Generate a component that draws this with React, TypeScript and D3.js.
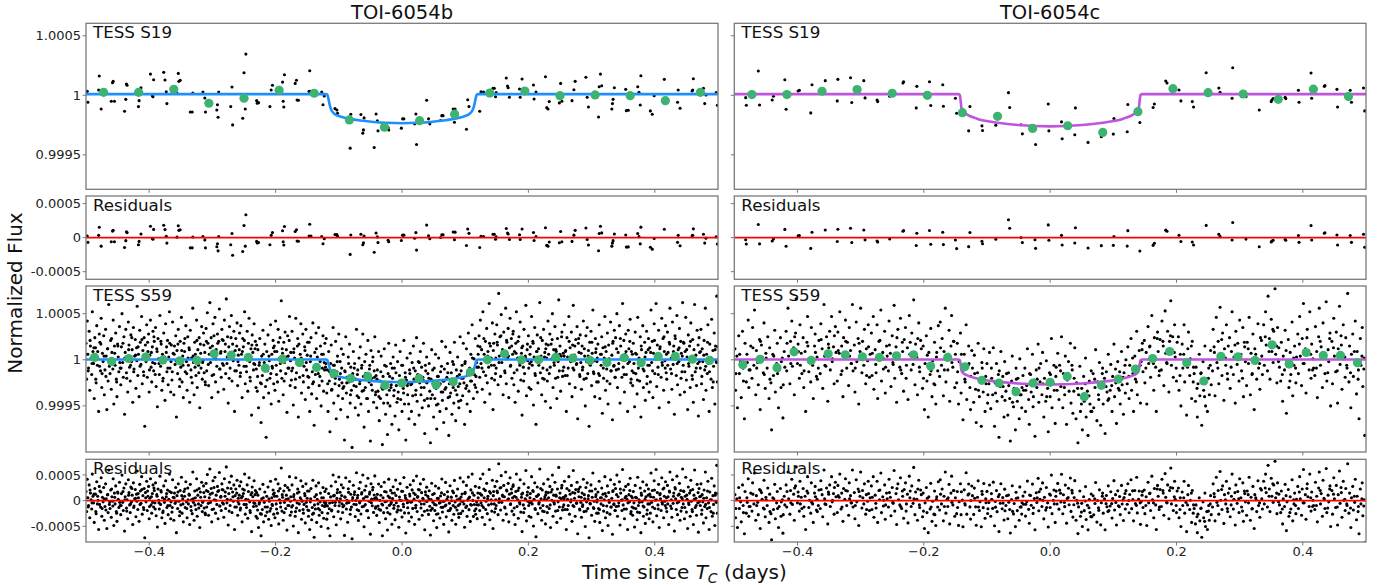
import React from 'react';
import * as d3 from 'd3';

const W = 1385;
const H = 585;

// Phase-folded photometry: [time since Tc in 1e-3 days, flux deviation in ppm]
const s19bPoints: [number, number][] = [
  [-498,33],[-497,-59],[-479,162],[-480,44],[-476,-115],[-458,106],[-457,117],[-460,-50],[-455,-50],[-439,-134],
  [-437,-34],[-436,95],[-435,84],[-417,-95],[-416,-45],[-413,64],[-398,178],[-393,131],[-395,-3],[-394,-12],
  [-377,193],[-375,128],[-373,30],[-372,-70],[-354,184],[-353,117],[-351,126],[-356,17],[-335,-140],[-332,-140],
  [-331,19],[-315,28],[-312,-23],[-311,-140],[-292,-79],[-293,-123],[-291,-184],[-290,28],[-271,-95],[-269,70],
  [-268,-249],[-252,-193],[-250,189],[-248,-115],[-247,346],[-230,-45],[-229,-67],[-227,-62],[-209,-95],[-207,44],
  [-205,84],[-188,-50],[-187,-98],[-189,111],[-186,173],[-169,100],[-167,126],[-166,-39],[-164,-42],[-146,206],
  [-147,33],[-144,33],[-127,28],[-125,-79],[-123,-6],[-106,-112],[-103,-123],[-102,-151],[-82,-444],[-81,-159],
  [-65,-162],[-62,-318],[-61,-291],[-60,-190],[-44,-439],[-41,-157],[-39,-215],[-38,-299],[-21,-291],[-22,-271],
  [1,-198],[3,-198],[-1,-276],[22,-157],[20,-240],[23,-414],[39,-42],[42,-198],[44,-240],[61,-212],
  [63,-171],[65,-171],[81,-115],[84,-115],[83,-226],[102,-285],[104,-37],[106,-95],[123,-134],[125,30],
  [129,28],[144,59],[146,59],[148,-12],[149,22],[165,145],[167,78],[168,64],[170,-17],[186,53],
  [190,137],[187,-17],[208,86],[209,-31],[212,28],[227,156],[229,-104],[231,-115],[233,-53],[251,100],
  [249,-64],[253,-50],[269,-45],[274,117],[272,47],[291,151],[293,-17],[295,-98],[312,72],[314,178],
  [311,-182],[316,80],[332,-115],[333,-70],[334,-34],[336,64],[354,50],[355,-129],[358,-126],[373,72],
  [375,25],[377,-81],[378,164],[393,-131],[396,-159],[399,-3],[415,134],[437,44],[436,-59],[440,-109],
  [459,36],[461,139],[460,44],[477,59],[479,-70],[481,3],[497,22],[499,-84]
];

const s19cPoints: [number, number][] = [
  [-482,-20],[-481,-84],[-462,204],[-460,-81],[-440,-39],[-438,-8],[-420,131],[-418,-117],[-399,36],[-397,42],
  [-379,-148],[-377,89],[-356,123],[-336,134],[-337,-47],[-316,148],[-314,-61],[-295,123],[-293,-22],[-274,-39],
  [-273,-53],[-254,-8],[-233,103],[-232,114],[-211,75],[-212,-106],[-191,114],[-189,-86],[-170,89],[-169,-92],
  [-150,-25],[-148,-151],[-129,-299],[-127,-95],[-108,-257],[-107,-296],[-86,-251],[-66,22],[-64,-103],[-46,-248],
  [-44,-324],[-23,-413],[-24,-287],[-3,-73],[-2,-299],[18,-223],[19,-365],[39,-332],[40,-106],[60,-396],
  [81,-349],[101,-195],[100,-326],[122,-307],[123,-78],[142,-229],[163,-103],[165,-73],[183,120],[185,103],
  [204,45],[207,-47],[225,-53],[227,-98],[247,190],[267,61],[269,25],[288,-25],[289,232],[310,-11],
  [331,-123],[350,-53],[351,-39],[353,-28],[372,-17],[373,-28],[393,42],[394,-59],[413,187],[414,-25],
  [434,75],[435,81],[455,-98],[454,50],[475,42],[477,-59],[496,61],[498,-131]
];

const s59bOrbitA: [number, number][] = [
  [-500,180],[-499,-210],[-498,420],[-497,60],[-496,-90],[-495,310],[-494,-330],[-493,150],[-492,20],[-491,-160],[-490,520],[-489,90],[-488,-40],[-487,-420],[-486,240],[-485,130],[-484,-250],[-483,370],[-482,-60],[-481,10],[-480,-560],[-479,280],[-478,190],[-477,-120],[-476,450],[-475,-300],[-474,70],[-473,-20],
  [-472,260],[-471,-380],[-470,-110],[-469,330],[-468,40],[-467,-540],[-466,120],[-465,-230],[-464,600],[-463,-70],[-462,-150],[-461,210],[-460,-320],[-459,80],[-458,-10],[-457,430],[-456,-480],[-455,150],[-454,-60],[-453,290],[-452,-210],[-451,-400],[-450,170],[-449,30],[-448,-130],[-447,360],[-446,-90],
  [-445,-270],[-444,140],[-443,500],[-442,-30],[-441,-190],[-440,250],[-439,-590],[-438,80],[-437,330],[-436,-140],[-435,20],[-434,-350],[-433,410],[-432,160],[-431,-80],[-430,-230],[-429,270],[-428,-20],[-427,110],[-426,-460],[-425,350],[-424,-100],[-423,40],[-422,220],[-421,-310],[-420,130],[-419,580],
  [-418,-170],[-417,60],[-416,-400],[-415,320],[-414,190],[-413,-50],[-412,470],[-411,-260],[-410,100],[-409,-130],[-408,240],[-407,-720],[-406,160],[-405,-20],[-404,380],[-403,-190],[-402,90],[-401,280],[-400,-350],[-399,50],[-398,430],[-397,-80],[-396,-240],[-395,140],[-394,310],[-393,-120],[-392,200],
  [-391,-40],[-390,350],[-389,-290],[-388,120],[-387,-510],[-386,230],[-385,10],[-384,-160],[-383,480],[-382,-70],[-381,170],[-380,-330],[-379,60],[-378,-200],[-377,290],[-376,-30],[-375,-440],[-374,390],[-373,80],[-372,-130],[-371,210],[-370,-270],[-369,30],[-368,520],[-367,-90],[-366,-350],[-365,160],
  [-364,-220],[-363,410],[-362,70],[-361,-380],[-360,150],[-359,-50],[-358,260],[-357,-620],[-356,100],[-355,-150],[-354,330],[-353,-10],[-352,-290],[-351,200],[-350,-80],[-349,460],[-348,-240],[-347,40],[-346,-410],[-345,180],[-344,90],[-343,-130],[-342,370],[-341,-20],[-340,-330],[-339,250],[-338,-60],
  [-337,130],[-336,-460],[-335,320],[-334,-110],[-333,20],[-332,-250],[-331,560],[-330,-30],[-329,-380],[-328,190],[-327,60],[-326,-170],[-325,430],[-324,-300],[-323,110],[-322,-60],[-321,240],[-320,-520],[-319,170],[-318,-90],[-317,360],[-316,-210],[-315,-10],[-314,290],[-313,-140],[-312,80],[-311,-270],
  [-310,340],[-309,-120],[-308,510],[-307,180],[-306,-280],[-305,60],[-304,620],[-303,-30],[-302,240],[-301,-410],[-300,150],[-299,390],[-298,-160],[-297,20],[-296,460],[-295,-240],[-294,110],[-293,-70],[-292,280],[-291,-350],[-290,200],[-289,550],[-288,-100],[-287,70],[-286,-190],[-285,330],[-284,-40],
  [-283,210],[-282,-320],[-281,430],[-280,90],[-279,-150],[-278,660],[-277,-40],[-276,250],[-275,-470],[-274,140],[-273,360],[-272,-90],[-271,20],[-270,480],[-269,-230],[-268,170],[-267,-10],[-266,310],[-265,-560],[-264,100],[-263,230],[-262,-120],[-261,400],[-260,-280],[-259,50],[-258,-60],[-257,290],
  [-256,-180],[-255,370],[-254,60],[-253,-410],[-252,230],[-251,140],[-250,-70],[-249,520],[-248,-260],[-247,30],[-246,-130],[-245,310],[-244,-340],[-243,180],[-242,450],[-241,-20],[-240,-230],[-239,120],[-238,-600],[-237,270],[-236,80],[-235,-110],[-234,390],[-233,-50],[-232,200],[-231,-300],[-230,160],
  [-229,-340],[-228,110],[-227,-520],[-226,-60],[-225,230],[-224,-250],[-223,-680],[-222,40],[-221,-170],[-220,320],[-219,-410],[-218,-30],[-217,170],[-216,-290],[-215,-840],[-214,90],[-213,-120],[-212,270],[-211,-360],[-210,-10],[-209,-200],[-208,380],[-207,-480],[-206,60],[-205,-90],[-204,210],[-203,-260],
  [-202,150],[-201,-330],[-200,420],[-199,-60],[-198,90],[-197,-240],[-196,330],[-195,-450],[-194,20],[-193,240],[-192,-120],[-191,640],[-190,-200],[-189,70],[-188,-380],[-187,190],[-186,-30],[-185,300],[-184,-150],[-183,110],[-182,-570],[-181,260],[-180,40],[-179,-90],[-178,470],[-177,-280],[-176,80],
  [-175,-220],[-174,310],[-173,-90],[-172,-490],[-171,120],[-170,20],[-169,-300],[-168,450],[-167,-140],[-166,-40],[-165,230],[-164,-620],[-163,170],[-162,-190],[-161,60],[-160,390],[-159,-360],[-158,-10],[-157,280],[-156,-240],[-155,-70],[-154,140],[-153,-430],[-152,330],[-151,-110],[-150,50],[-149,-180],
  [-148,-300],[-147,190],[-146,-560],[-145,-20],[-144,240],[-143,-370],[-142,-130],[-141,400],[-140,-240],[-139,-710],[-138,80],[-137,-160],[-136,290],[-135,-420],[-134,30],[-133,-60],[-132,350],[-131,-280],[-130,-180],[-129,150],[-128,-500],[-127,60],[-126,-90],[-125,260],[-124,-340],[-123,-30],[-122,180],
  [-121,-80],[-120,230],[-119,-360],[-118,-110],[-117,-560],[-116,90],[-115,-230],[-114,-780],[-113,-40],[-112,160],[-111,-320],[-110,-180],[-109,350],[-108,-470],[-107,-60],[-106,-260],[-105,200],[-104,-640],[-103,-130],[-102,40],[-101,-390],[-100,280],[-99,-210],[-98,-20],[-97,-540],[-96,120],[-95,-250],
  [-94,-420],[-93,60],[-92,-290],[-91,-870],[-90,-130],[-89,250],[-88,-360],[-87,-190],[-86,-620],[-85,30],[-84,-240],[-83,170],[-82,-470],[-81,-80],[-80,-330],[-79,-950],[-78,-150],[-77,90],[-76,-280],[-75,-40],[-74,-520],[-73,-210],[-72,330],[-71,-390],[-70,-110],[-69,-600],[-68,20],
  [-67,-260],[-66,140],[-65,-480],[-64,-90],[-63,-340],[-62,280],[-61,-180],[-60,-730],[-59,-20],[-58,-300],[-57,60],[-56,-420],[-55,-150],[-54,210],[-53,-560],[-52,-240],[-51,-60],[-50,-880],[-49,100],[-48,-200],[-47,-330],[-46,30],[-45,-460],[-44,-120],[-43,250],[-42,-380],[-41,-170],
  [-40,-520],[-39,-110],[-38,-340],[-37,90],[-36,-660],[-35,-230],[-34,-420],[-33,40],[-32,-300],[-31,-920],[-30,-180],[-29,-470],[-28,120],[-27,-260],[-26,-590],[-25,-70],[-24,-380],[-23,-810],[-22,-150],[-21,180],[-20,-330],[-19,-500],[-18,-40],[-17,-270],[-16,-700],[-15,-200],[-14,30],
  [-13,-390],[-12,-90],[-11,-610],[-10,160],[-9,-280],[-8,-460],[-7,-20],[-6,-350],[-5,-760],[-4,-170],[-3,90],[-2,-430],[-1,-240],[0,-560],[1,-60],[2,-310],[3,210],[4,-480],[5,-140],[6,-870],[7,-220],[8,20],[9,-380],[10,-250],[11,-640],[12,-110],[13,70],
  [14,-270],[15,-560],[16,-30],[17,-390],[18,150],[19,-210],[20,-700],[21,-120],[22,-330],[23,240],[24,-450],[25,-160],[26,-20],[27,-600],[28,-250],[29,90],[30,-380],[31,-80],[32,-520],[33,-190],[34,180],[35,-300],[36,-800],[37,-60],[38,-240],[39,30],[40,-420],
  [41,-150],[42,-500],[43,-40],[44,-340],[45,-900],[46,-210],[47,110],[48,-380],[49,-260],[50,-620],[51,-90],[52,-420],[53,60],[54,-310],[55,-750],[56,-180],[57,-480],[58,20],[59,-270],[60,-560],[61,-130],[62,-350],[63,200],[64,-440],[65,-230],[66,-680],[67,-100],
  [68,-320],[69,140],[70,-530],[71,-190],[72,-40],[73,-410],[74,-820],[75,-260],[76,80],[77,-360],[78,-140],[79,-590],[80,-20],[81,-300],[82,-470],[83,190],[84,-230],[85,-660],[86,-110],[87,-380],[88,30],[89,-290],[90,-520],[91,-160],[92,250],[93,-440],[94,-200],
  [95,-60],[96,-390],[97,180],[98,-250],[99,-700],[100,-20],[101,-310],[102,120],[103,-480],[104,-160],[105,290],[106,-340],[107,-90],[108,-560],[109,60],[110,-230],[111,380],[112,-120],[113,-420],[114,10],[115,-270],[116,230],[117,-180],[118,-30],[119,-350],[120,150],[121,-80],
  [122,260],[123,-190],[124,430],[125,-40],[126,110],[127,-320],[128,520],[129,-130],[130,60],[131,-460],[132,200],[133,-10],[134,340],[135,-250],[136,90],[137,-80],[138,610],[139,-370],[140,150],[141,20],[142,-200],[143,400],[144,-540],[145,180],[146,-60],[147,280],[148,-150],
  [149,-90],[150,380],[151,160],[152,-270],[153,720],[154,40],[155,250],[156,-180],[157,490],[158,-30],[159,110],[160,-380],[161,300],[162,80],[163,-140],[164,560],[165,-260],[166,190],[167,20],[168,340],[169,-410],[170,130],[171,450],[172,-60],[173,230],[174,-200],[175,60],
  [176,310],[177,-270],[178,90],[179,-460],[180,180],[181,520],[182,-110],[183,20],[184,-340],[185,250],[186,-30],[187,410],[188,-220],[189,70],[190,-600],[191,150],[192,-80],[193,330],[194,-150],[195,40],[196,590],[197,-390],[198,110],[199,-10],[200,260],[201,-300],[202,-40],
  [203,140],[204,-320],[205,470],[206,-60],[207,200],[208,-490],[209,30],[210,350],[211,-170],[212,-700],[213,90],[214,270],[215,-250],[216,120],[217,-30],[218,620],[219,-140],[220,40],[221,-380],[222,210],[223,-90],[224,330],[225,-210],[226,80],[227,-450],[228,170],[229,20],
  [230,-230],[231,420],[232,60],[233,-150],[234,280],[235,-520],[236,170],[237,10],[238,500],[239,-300],[240,110],[241,-60],[242,360],[243,-200],[244,90],[245,-420],[246,230],[247,-20],[248,650],[249,-120],[250,150],[251,-340],[252,40],[253,300],[254,-180],[255,70],[256,-80],
  [257,380],[258,-170],[259,100],[260,-560],[261,240],[262,30],[263,-90],[264,470],[265,-260],[266,130],[267,-20],[268,300],[269,-400],[270,160],[271,590],[272,-110],[273,50],[274,-300],[275,220],[276,-50],[277,360],[278,-640],[279,180],[280,80],[281,-160],[282,270],[283,-30],
  [284,-320],[285,150],[286,-80],[287,420],[288,-210],[289,40],[290,-500],[291,260],[292,-20],[293,350],[294,-150],[295,100],[296,-720],[297,190],[298,-60],[299,310],[300,-280],[301,70],[302,540],[303,-130],[304,-10],[305,-400],[306,230],[307,120],[308,-240],[309,20],[310,170],
  [311,-150],[312,380],[313,-420],[314,60],[315,-60],[316,250],[317,-580],[318,130],[319,-200],[320,20],[321,470],[322,-330],[323,90],[324,-100],[325,290],[326,-480],[327,160],[328,-30],[329,-260],[330,410],[331,-120],[332,50],[333,-650],[334,200],[335,-70],[336,320],[337,-190],
  [338,240],[339,-110],[340,500],[341,-300],[342,80],[343,-40],[344,370],[345,-470],[346,150],[347,10],[348,-190],[349,610],[350,-80],[351,210],[352,-350],[353,60],[354,280],[355,-160],[356,30],[357,-560],[358,320],[359,120],[360,-20],[361,440],[362,-250],[363,90],[364,-120],
  [365,-280],[366,180],[367,-40],[368,-510],[369,300],[370,-150],[371,60],[372,-370],[373,460],[374,-90],[375,20],[376,-230],[377,250],[378,-620],[379,110],[380,-20],[381,370],[382,-300],[383,-120],[384,190],[385,-440],[386,80],[387,310],[388,-180],[389,-60],[390,230],[391,-350],
  [392,130],[393,-240],[394,540],[395,-30],[396,200],[397,-410],[398,70],[399,390],[400,-150],[401,10],[402,610],[403,-290],[404,160],[405,-80],[406,320],[407,-520],[408,120],[409,40],[410,-190],[411,450],[412,-60],[413,230],[414,-330],[415,90],[416,-10],[417,370],[418,-140],
  [419,-210],[420,300],[421,80],[422,-460],[423,190],[424,560],[425,-100],[426,20],[427,-320],[428,410],[429,-50],[430,150],[431,-590],[432,260],[433,40],[434,-170],[435,480],[436,-270],[437,110],[438,-20],[439,340],[440,-380],[441,200],[442,70],[443,-130],[444,620],[445,-60],
  [446,180],[447,-350],[448,90],[449,460],[450,-220],[451,30],[452,-540],[453,270],[454,-70],[455,150],[456,-300],[457,400],[458,-10],[459,-170],[460,220],[461,-460],[462,110],[463,600],[464,-130],[465,50],[466,-280],[467,320],[468,-40],[469,-610],[470,240],[471,80],[472,-90],
  [473,330],[474,-260],[475,120],[476,-20],[477,-430],[478,210],[479,-110],[480,560],[481,-330],[482,60],[483,-150],[484,380],[485,-40],[486,-560],[487,170],[488,20],[489,-210],[490,440],[491,-300],[492,100],[493,-70],[494,290],[495,-480],[496,150],[497,-10],[498,690],[499,-240]
];

const s59bOrbitB: [number, number][] = [
  [-499.5,60],[-496.5,-120],[-493.5,210],[-490.5,-40],[-487.5,130],[-484.5,-210],[-481.5,90],[-478.5,-70],[-476.5,170],[-474.5,-150],
  [-471.5,40],[-468.5,-180],[-465.5,120],[-462.5,-20],[-459.5,230],[-457.5,-100],[-454.5,70],[-451.5,-240],[-449.5,150],[-446.5,-30],
  [-444.5,-90],[-441.5,180],[-438.5,20],[-435.5,-200],[-432.5,110],[-429.5,-60],[-427.5,240],[-424.5,-130],[-421.5,50],[-419.5,-10],
  [-417.5,140],[-414.5,-70],[-411.5,220],[-408.5,-170],[-405.5,60],[-402.5,190],[-399.5,-110],[-396.5,80],[-394.5,-30],[-392.5,250],
  [-390.5,-160],[-387.5,90],[-384.5,-40],[-381.5,200],[-378.5,-230],[-375.5,30],[-372.5,140],[-370.5,-90],[-367.5,180],[-365.5,-20],
  [-363.5,-130],[-360.5,60],[-357.5,-10],[-354.5,170],[-351.5,-210],[-348.5,100],[-346.5,-60],[-343.5,230],[-340.5,-150],[-338.5,20],
  [-336.5,110],[-333.5,-190],[-330.5,40],[-327.5,-80],[-324.5,210],[-321.5,-140],[-318.5,70],[-315.5,-30],[-313.5,160],[-311.5,-240],
  [-309.5,200],[-306.5,-50],[-303.5,130],[-300.5,-170],[-297.5,260],[-294.5,10],[-291.5,180],[-288.5,-100],[-286.5,90],[-284.5,220],
  [-282.5,-60],[-279.5,170],[-276.5,30],[-273.5,-200],[-270.5,240],[-267.5,80],[-264.5,-120],[-261.5,150],[-259.5,-20],[-257.5,110],
  [-255.5,-140],[-252.5,90],[-249.5,210],[-246.5,-70],[-243.5,20],[-240.5,-190],[-237.5,160],[-234.5,-40],[-232.5,120],[-230.5,-100],
  [-228.5,-180],[-225.5,-30],[-222.5,-260],[-219.5,60],[-216.5,-120],[-213.5,-220],[-210.5,40],[-207.5,-150],[-205.5,-70],[-203.5,130],
  [-201.5,90],[-198.5,-160],[-195.5,190],[-192.5,-40],[-189.5,120],[-186.5,-230],[-183.5,30],[-180.5,-90],[-178.5,210],[-176.5,-10],
  [-174.5,-120],[-171.5,80],[-168.5,-210],[-165.5,150],[-162.5,-60],[-159.5,20],[-156.5,-170],[-153.5,100],[-151.5,-30],[-149.5,190],
  [-147.5,-190],[-144.5,40],[-141.5,-260],[-138.5,-80],[-135.5,120],[-132.5,-150],[-129.5,-20],[-126.5,-230],[-124.5,60],[-122.5,-110],
  [-120.5,-40],[-117.5,-260],[-114.5,-130],[-111.5,-330],[-108.5,-60],[-105.5,-200],[-102.5,-20],[-99.5,-280],[-97.5,-150],[-95.5,-90],
  [-93.5,-310],[-90.5,-120],[-87.5,-250],[-84.5,-40],[-81.5,-380],[-78.5,-200],[-75.5,-90],[-72.5,-290],[-70.5,-160],[-68.5,-410],
  [-66.5,-230],[-63.5,-60],[-60.5,-330],[-57.5,-150],[-54.5,-420],[-51.5,-100],[-48.5,-270],[-46.5,-20],[-43.5,-190],[-41.5,-350],
  [-39.5,-210],[-36.5,-400],[-33.5,-130],[-30.5,-320],[-27.5,-60],[-24.5,-250],[-22.5,-470],[-19.5,-180],[-17.5,-300],[-15.5,-90],
  [-12.5,-330],[-9.5,-140],[-6.5,-420],[-3.5,-230],[-0.5,-60],[2.5,-360],[5.5,-190],[8.5,-280],[10.5,-480],[12.5,-150],
  [15.5,-260],[18.5,-90],[21.5,-380],[24.5,-170],[27.5,-30],[30.5,-300],[33.5,-220],[35.5,-440],[37.5,-120],[39.5,-250],
  [42.5,-200],[45.5,-420],[48.5,-110],[51.5,-300],[54.5,-490],[57.5,-180],[60.5,-260],[62.5,-70],[64.5,-350],[66.5,-230],
  [69.5,-300],[72.5,-140],[75.5,-400],[78.5,-210],[81.5,-50],[84.5,-330],[87.5,-180],[89.5,-450],[91.5,-260],[93.5,-120],
  [96.5,-200],[99.5,-40],[102.5,-280],[105.5,-120],[108.5,-230],[111.5,20],[114.5,-160],[116.5,-300],[118.5,-80],[120.5,60],
  [123.5,140],[126.5,-90],[129.5,230],[132.5,-170],[135.5,40],[138.5,180],[141.5,-60],[144.5,100],[146.5,-220],[148.5,20],
  [150.5,190],[153.5,-30],[156.5,260],[159.5,90],[162.5,-120],[165.5,210],[168.5,40],[171.5,-70],[173.5,150],[175.5,280],
  [177.5,-140],[180.5,70],[183.5,200],[186.5,-60],[189.5,130],[192.5,-230],[195.5,20],[198.5,170],[200.5,-90],[202.5,60],
  [204.5,-20],[207.5,180],[210.5,-150],[213.5,90],[216.5,-60],[219.5,240],[222.5,-200],[225.5,30],[227.5,120],[229.5,-110],
  [231.5,160],[234.5,-80],[237.5,220],[240.5,-30],[243.5,110],[246.5,-190],[249.5,60],[252.5,250],[254.5,-120],[256.5,40],
  [258.5,90],[261.5,-170],[264.5,200],[267.5,20],[270.5,-90],[273.5,150],[276.5,-40],[279.5,230],[281.5,-180],[283.5,70],
  [285.5,-110],[288.5,120],[291.5,-200],[294.5,40],[297.5,-50],[300.5,190],[303.5,-150],[306.5,80],[308.5,-20],[310.5,-240],
  [312.5,-170],[315.5,60],[318.5,-90],[321.5,140],[324.5,-230],[327.5,10],[330.5,-120],[333.5,180],[335.5,-60],[337.5,-190],
  [339.5,120],[342.5,-100],[345.5,230],[348.5,20],[351.5,-160],[354.5,90],[357.5,-40],[360.5,200],[362.5,-210],[364.5,60],
  [366.5,-140],[369.5,70],[372.5,-220],[375.5,-30],[378.5,150],[381.5,-100],[384.5,30],[387.5,-260],[389.5,110],[391.5,-60],
  [393.5,80],[396.5,-120],[399.5,210],[402.5,20],[405.5,-160],[408.5,140],[411.5,-30],[414.5,250],[416.5,-90],[418.5,60],
  [420.5,-60],[423.5,170],[426.5,-150],[429.5,90],[432.5,230],[435.5,-40],[438.5,130],[441.5,-200],[443.5,40],[445.5,190],
  [447.5,-130],[450.5,110],[453.5,-40],[456.5,200],[459.5,-210],[462.5,30],[465.5,-90],[468.5,160],[470.5,-20],[472.5,90],
  [474.5,-180],[477.5,50],[480.5,-70],[483.5,190],[486.5,-130],[489.5,20],[492.5,-240],[495.5,110],[497.5,-30],[499.5,140]
];

const s59cOrbitA: [number, number][] = [
  [-499,120],[-498,-330],[-496,40],[-495,-520],[-493,260],[-492,-150],[-490,-20],[-489,-410],[-487,310],[-486,-90],[-484,-640],[-483,180],[-481,-240],[-480,60],[-478,430],[-477,-300],[-475,-110],[-474,150],
  [-472,-200],[-471,350],[-469,-60],[-468,540],[-466,-380],[-465,100],[-463,-30],[-462,-270],[-460,220],[-459,-540],[-457,160],[-456,30],[-454,-140],[-453,400],[-451,-310],[-450,70],[-448,-90],[-447,250],
  [-445,-420],[-444,130],[-442,-250],[-441,-760],[-439,60],[-438,-170],[-436,320],[-435,-350],[-433,-40],[-432,180],[-430,-520],[-429,-110],[-427,240],[-426,-300],[-424,20],[-423,-630],[-421,90],[-420,-80],
  [-418,310],[-417,-120],[-415,560],[-414,40],[-412,-260],[-411,200],[-409,420],[-408,-70],[-406,130],[-405,-380],[-403,290],[-402,660],[-400,-40],[-399,170],[-397,-200],[-396,380],[-394,70],[-393,-150],
  [-391,240],[-390,-300],[-388,90],[-387,-560],[-385,190],[-384,470],[-382,-130],[-381,10],[-379,-240],[-378,350],[-376,-60],[-375,-420],[-373,150],[-372,280],[-370,-180],[-369,30],[-367,-90],[-366,210],
  [-364,-150],[-363,390],[-361,120],[-360,-310],[-358,600],[-357,40],[-355,-70],[-354,250],[-352,-450],[-351,170],[-349,310],[-348,-110],[-346,470],[-345,-20],[-343,140],[-342,-260],[-340,360],[-339,80],
  [-337,-230],[-336,300],[-334,70],[-333,520],[-331,-160],[-330,150],[-328,-400],[-327,240],[-325,30],[-324,430],[-322,-90],[-321,190],[-319,-280],[-318,350],[-316,100],[-315,-40],[-313,600],[-312,-120],
  [-310,160],[-309,-350],[-307,410],[-306,-20],[-304,230],[-303,-480],[-301,90],[-300,560],[-298,-140],[-297,200],[-295,-60],[-294,330],[-292,-260],[-291,120],[-289,-10],[-288,380],[-286,-190],[-285,60],
  [-283,290],[-282,-170],[-280,470],[-279,-320],[-277,110],[-276,-50],[-274,380],[-273,-420],[-271,200],[-270,20],[-268,540],[-267,-230],[-265,80],[-264,-100],[-262,310],[-261,-360],[-259,150],[-258,40],
  [-256,-120],[-255,420],[-253,70],[-252,-290],[-250,260],[-249,-30],[-247,590],[-246,-200],[-244,140],[-243,-460],[-241,330],[-240,20],[-238,-80],[-237,450],[-235,-150],[-234,190],[-232,-340],[-231,220],
  [-229,350],[-228,-200],[-226,130],[-225,-430],[-223,480],[-222,60],[-220,-110],[-219,290],[-217,-50],[-216,650],[-214,-270],[-213,170],[-211,30],[-210,-380],[-208,400],[-207,-80],[-205,210],[-204,120],
  [-202,-310],[-201,150],[-199,-540],[-198,-40],[-196,260],[-195,-230],[-193,-620],[-192,80],[-190,-160],[-189,340],[-187,-400],[-186,-10],[-184,-260],[-183,190],[-181,-480],[-180,30],[-178,-120],[-177,370],
  [-175,-180],[-174,410],[-172,-60],[-171,230],[-169,-390],[-168,90],[-166,560],[-165,-240],[-163,30],[-162,-110],[-160,320],[-159,-450],[-157,150],[-156,480],[-154,-80],[-153,200],[-151,-300],[-150,60],
  [-148,-250],[-147,180],[-145,-480],[-144,-20],[-142,290],[-141,-360],[-139,-120],[-138,-650],[-136,60],[-135,-210],[-133,380],[-132,-430],[-130,-60],[-129,150],[-127,-300],[-126,-540],[-124,100],[-123,-90],
  [-121,-460],[-120,50],[-118,-320],[-117,-680],[-115,-140],[-114,180],[-112,-400],[-111,-230],[-109,-720],[-108,-30],[-106,-350],[-105,120],[-103,-560],[-102,-180],[-100,-40],[-99,-470],[-97,-260],[-96,80],
  [-94,-530],[-93,-90],[-91,-380],[-90,130],[-88,-720],[-87,-250],[-85,-40],[-84,-450],[-82,-160],[-81,-840],[-79,-290],[-78,90],[-76,-400],[-75,-180],[-73,-620],[-72,-20],[-70,-340],[-69,-150],
  [-67,-600],[-66,-140],[-64,-420],[-63,-880],[-61,-230],[-60,40],[-58,-510],[-57,-310],[-55,-760],[-54,-90],[-52,-450],[-51,-200],[-49,-640],[-48,10],[-46,-380],[-45,-520],[-43,-170],[-42,-330],
  [-40,-90],[-39,-560],[-37,-280],[-36,120],[-34,-430],[-33,-700],[-31,-160],[-30,-350],[-28,60],[-27,-510],[-25,-220],[-24,-830],[-22,-110],[-21,-300],[-19,170],[-18,-460],[-16,-240],[-15,-40],
  [-13,-380],[-12,80],[-10,-620],[-9,-200],[-7,-450],[-6,-10],[-4,-310],[-3,-780],[-1,-140],[0,-400],[2,230],[3,-520],[5,-260],[6,-60],[8,-690],[9,-180],[11,-330],[12,70],
  [14,-430],[15,-60],[17,-290],[18,250],[20,-520],[21,-150],[23,-380],[24,40],[26,-700],[27,-220],[29,-20],[30,-340],[32,180],[33,-470],[35,-110],[36,-580],[38,-200],[39,130],
  [41,-640],[42,-250],[44,-900],[45,-380],[47,-70],[48,-560],[50,-310],[51,-760],[53,-180],[54,-450],[56,20],[57,-620],[59,-340],[60,-820],[62,-230],[63,-480],[65,-120],[66,-560],
  [68,-150],[69,-520],[71,-300],[72,110],[74,-660],[75,-240],[77,-430],[78,-30],[80,-710],[81,-280],[83,-90],[84,-480],[86,-200],[87,-800],[89,-130],[90,-350],[92,60],[93,-420],
  [95,-330],[96,-50],[98,-560],[99,-180],[101,170],[102,-400],[104,-250],[105,-690],[107,-20],[108,-310],[110,-130],[111,-480],[113,90],[114,-270],[116,-590],[117,-140],[119,-360],[120,0],
  [122,-260],[123,140],[125,-420],[126,-60],[128,230],[129,-330],[131,-150],[132,-560],[134,40],[135,-210],[137,310],[138,-380],[140,-90],[141,100],[143,-470],[144,-20],[146,180],[147,-130],
  [149,210],[150,-250],[152,80],[153,-480],[155,360],[156,-40],[158,150],[159,-190],[161,480],[162,20],[164,-330],[165,240],[167,-80],[168,-560],[170,300],[171,90],[173,-120],[174,220],
  [176,-110],[177,420],[179,150],[180,-280],[182,530],[183,70],[185,-40],[186,310],[188,-350],[189,200],[191,640],[192,-60],[194,250],[195,-190],[197,380],[198,30],[200,-230],[201,190],
  [203,250],[204,-330],[206,60],[207,-500],[209,170],[210,-90],[212,380],[213,-240],[215,-30],[216,-600],[218,120],[219,300],[221,-170],[222,10],[224,-420],[225,200],[227,-80],[228,-150],
  [230,-450],[231,-80],[233,-620],[234,-260],[236,60],[237,-390],[239,-140],[240,-710],[242,-20],[243,-330],[245,150],[246,-500],[248,-210],[249,-560],[251,-90],[252,-380],[254,100],[255,-270],
  [257,-120],[258,330],[260,80],[261,-390],[263,460],[264,-30],[266,200],[267,-260],[269,570],[270,10],[272,-170],[273,290],[275,-440],[276,120],[278,-60],[279,380],[281,-210],[282,150],
  [284,240],[285,-310],[287,90],[288,520],[290,-160],[291,30],[293,-470],[294,310],[296,-50],[297,180],[299,-230],[300,430],[302,60],[303,-120],[305,350],[306,-400],[308,140],[309,-20],
  [311,-280],[312,190],[314,-40],[315,460],[317,-380],[318,70],[320,-150],[321,280],[323,-540],[324,120],[326,20],[327,-210],[329,390],[330,-90],[332,-320],[333,240],[335,40],[336,-160],
  [338,380],[339,-60],[341,520],[342,160],[344,-120],[345,690],[347,230],[348,-210],[350,440],[351,90],[353,-30],[354,310],[356,770],[357,60],[359,-250],[360,350],[362,130],[363,-80],
  [365,-230],[366,190],[368,-450],[369,40],[371,-110],[372,320],[374,-580],[375,-20],[377,220],[378,-300],[380,80],[381,-160],[383,410],[384,-390],[386,-60],[387,150],[389,-250],[390,30],
  [392,280],[393,-150],[395,470],[396,40],[398,-280],[399,230],[401,610],[402,-40],[404,120],[405,-360],[407,330],[408,80],[410,-110],[411,520],[413,-200],[414,170],[416,10],[417,-90],
  [419,-170],[420,360],[422,90],[423,-410],[425,250],[426,560],[428,-60],[429,140],[431,-300],[432,400],[434,20],[435,-150],[437,630],[438,-230],[440,110],[441,-20],[443,290],[444,-500],
  [446,200],[447,-260],[449,450],[450,40],[452,-130],[453,300],[455,-470],[456,120],[458,580],[459,-50],[461,160],[462,-320],[464,380],[465,10],[467,-190],[468,240],[470,-90],[471,720],
  [473,-240],[474,150],[476,-520],[477,60],[479,280],[480,-180],[482,-30],[483,420],[485,-370],[486,90],[488,-110],[489,-640],[491,230],[492,-60],[494,350],[495,-290],[497,20],[498,-820]
];

const s59cOrbitB: [number, number][] = [
  [-497.5,-150],[-491.5,60],[-485.5,-230],[-479.5,-30],[-476.5,-110],[-470.5,130],[-464.5,-90],[-458.5,200],[-452.5,-160],[-449.5,20],
  [-443.5,-210],[-437.5,40],[-431.5,-150],[-425.5,-20],[-422.5,-270],[-416.5,180],[-410.5,-40],[-404.5,250],[-398.5,90],[-395.5,-60],
  [-389.5,-120],[-383.5,150],[-377.5,-30],[-371.5,80],[-368.5,-210],[-362.5,220],[-356.5,-60],[-350.5,130],[-344.5,10],[-341.5,260],
  [-335.5,100],[-329.5,-120],[-323.5,200],[-317.5,40],[-314.5,-40],[-308.5,-90],[-302.5,180],[-296.5,60],[-290.5,-170],[-287.5,140],
  [-281.5,70],[-275.5,-140],[-269.5,210],[-263.5,10],[-260.5,-80],[-254.5,160],[-248.5,-50],[-242.5,240],[-236.5,-110],[-233.5,90],
  [-227.5,-60],[-221.5,190],[-215.5,40],[-209.5,230],[-206.5,-130],[-200.5,-200],[-194.5,50],[-188.5,-120],[-182.5,-270],[-179.5,80],
  [-173.5,130],[-167.5,-110],[-161.5,60],[-155.5,-30],[-152.5,200],[-146.5,-130],[-140.5,60],[-134.5,-240],[-128.5,-40],[-125.5,-180],
  [-119.5,-150],[-113.5,-330],[-107.5,-90],[-101.5,-260],[-98.5,-380],[-92.5,-200],[-86.5,-360],[-80.5,-120],[-74.5,-290],[-71.5,-440],
  [-65.5,-280],[-59.5,-460],[-53.5,-210],[-47.5,-380],[-44.5,-300],[-38.5,-330],[-32.5,-150],[-26.5,-400],[-20.5,-210],[-17.5,-90],
  [-11.5,-260],[-5.5,-400],[0.5,-160],[6.5,-330],[9.5,-80],[16.5,-120],[22.5,-300],[28.5,-200],[34.5,-60],[37.5,-340],
  [43.5,-310],[49.5,-480],[55.5,-260],[61.5,-390],[64.5,-560],[70.5,-210],[76.5,-380],[82.5,-150],[88.5,-290],[91.5,-440],
  [97.5,-280],[103.5,-100],[109.5,-330],[115.5,-190],[118.5,-60],[124.5,-180],[130.5,20],[136.5,-240],[142.5,-60],[145.5,110],
  [151.5,-90],[157.5,140],[163.5,-40],[169.5,230],[172.5,-170],[178.5,200],[184.5,-30],[190.5,260],[196.5,80],[199.5,-90],
  [205.5,-170],[211.5,60],[217.5,-80],[223.5,150],[226.5,-240],[232.5,-310],[238.5,-150],[244.5,-400],[250.5,-200],[253.5,-60],
  [259.5,140],[265.5,-90],[271.5,220],[277.5,20],[280.5,-150],[286.5,-80],[292.5,160],[298.5,40],[304.5,-200],[307.5,190],
  [313.5,120],[319.5,-160],[325.5,60],[331.5,-40],[334.5,210],[340.5,250],[346.5,90],[352.5,330],[358.5,150],[361.5,-20],
  [367.5,-160],[373.5,100],[379.5,-230],[385.5,20],[388.5,-90],[394.5,170],[400.5,-40],[406.5,240],[412.5,60],[415.5,-110],
  [421.5,-90],[427.5,200],[433.5,50],[439.5,-140],[442.5,230],[448.5,130],[454.5,-120],[460.5,260],[466.5,30],[469.5,-60],
  [475.5,-140],[481.5,90],[487.5,-210],[493.5,40],[496.5,-100]
];

// Binned fluxes (ppm) at bin centres (days)
const s19BinTime = [-0.4722,-0.4167,-0.3611,-0.3056,-0.25,-0.1944,-0.1389,-0.0833,-0.0278,0.0278,0.0833,0.1389,0.1944,0.25,0.3056,0.3611,0.4167,0.4722];
const s19bBins = [25,25,50,-67,-25,42,17,-207,-268,-213,-159,19,36,-3,3,-3,-45,25];
const s19cBins = [6,6,34,48,17,0,-146,-177,-278,-256,-312,-138,56,22,11,-34,51,-11];

const s59BinTime = [-0.4865,-0.4595,-0.4324,-0.4054,-0.3784,-0.3514,-0.3243,-0.2973,-0.2703,-0.2432,-0.2162,-0.1892,-0.1622,-0.1351,-0.1081,-0.0811,-0.0541,-0.027,0,0.027,0.0541,0.0811,0.1081,0.1351,0.1622,0.1892,0.2162,0.2432,0.2703,0.2973,0.3243,0.3514,0.3784,0.4054,0.4324,0.4595,0.4865];
const s59bBins = [25,-18,14,29,-3,-11,-7,65,50,25,-90,7,-29,-83,-148,-202,-180,-277,-252,-202,-270,-238,-133,0,65,0,0,25,18,-7,-29,22,-32,36,36,7,-7];
const s59cBins = [-54,4,-86,86,-7,65,54,32,25,43,54,-68,25,-76,-223,-252,-346,-252,-245,-180,-400,-277,-209,-101,14,90,-32,-230,36,32,-7,162,-47,79,47,47,-32];

// Transit models: knots in days and ppm below baseline
const modelBTime = [-0.5,-0.1205,-0.1185,-0.117,-0.1155,-0.1135,-0.111,-0.107,-0.102,-0.095,-0.082,-0.065,-0.045,-0.025,0,0.025,0.045,0.065,0.082,0.095,0.102,0.107,0.111,0.1135,0.1155,0.117,0.1185,0.1205,0.5];
const modelBFlux = [0,0,-4,-25,-65,-110,-140,-165,-180,-192,-208,-222,-234,-241,-245,-241,-234,-222,-208,-192,-180,-165,-140,-110,-65,-25,-4,0,0];
const modelCTime = [-0.5,-0.1455,-0.1435,-0.1425,-0.1415,-0.1405,-0.138,-0.132,-0.1158,-0.0833,-0.0507,0,0.0507,0.0833,0.1158,0.132,0.138,0.1405,0.1415,0.1425,0.1435,0.1455,0.5];
const modelCFlux = [0,0,-4,-20,-65,-115,-145,-170,-207,-240,-260,-271,-260,-240,-207,-170,-145,-115,-65,-20,-4,0,0];

// baseline offset of the model per sector (ppm): S19, S59
const sectorBaseline = [10, 3];

const planetNames = ['TOI-6054b', 'TOI-6054c'];
const planetColors = ['#1e8fff', '#bf55dc'];
const binColor = '#3cb371';

const xTicks = [-0.4, -0.2, 0, 0.2, 0.4];
const xTickLabels = ['\u22120.4', '\u22120.2', '0.0', '0.2', '0.4'];
const fluxTicks = [500, 0, -500];
const fluxTickLabels = ['1.0005', '1', '0.9995'];
const residTickLabels = ['0.0005', '0', '-0.0005'];

const colX = [[86, 718], [734.3, 1366]];
const rowY = [[23.3, 189.3], [196, 279.3], [286, 452], [459.3, 542]];
const rowDomain = [[-790, 605], [-612, 612], [-1000, 800], [-805, 805]];

const FONT = "'DejaVu Sans', 'Liberation Sans', sans-serif";
const FRAME = '#7a7a7a';
const TEXT = '#222';

type Pt = [number, number];

function Panel(props: {
  id: string; col: number; row: number; points: Pt[]; binTime: number[]; bins: number[];
  knotT: number[]; knotF: number[]; base: number; residual: boolean; label: string;
}) {
  const { id, col, row, points, binTime, bins, knotT, knotF, base, residual, label } = props;
  const [x0, x1] = colX[col];
  const [y0, y1] = rowY[row];
  const x = d3.scaleLinear().domain([-0.5, 0.5]).range([x0, x1]);
  const y = d3.scaleLinear().domain(rowDomain[row]).range([y1, y0]);
  const model = d3.scaleLinear().domain(knotT).range(knotF).clamp(true);
  const pts: Pt[] = points.map(([t, f]) => {
    const td = t / 1000;
    return [td, residual ? f - base - model(td) : f];
  });
  const modelLine = d3.line<number>()
    .x((_, i) => x(knotT[i]))
    .y((d) => y(d + base))
    .curve(d3.curveMonotoneX);
  const ticksY = residual ? residTickLabels : fluxTickLabels;
  const lastRow = row === 3;
  return (
    <g>
      <defs>
        <clipPath id={id}>
          <rect x={x0} y={y0} width={x1 - x0} height={y1 - y0} />
        </clipPath>
      </defs>
      <rect x={x0} y={y0} width={x1 - x0} height={y1 - y0} fill="#fff" />
      <g clipPath={`url(#${id})`}>
        {pts.map((p, i) => (
          <circle key={i} cx={x(p[0])} cy={y(p[1])} r={1.55} fill="#000" />
        ))}
        {residual ? (
          <line x1={x0} x2={x1} y1={y(0)} y2={y(0)} stroke="#ff0000" strokeWidth={1.8} />
        ) : (
          <path d={modelLine(knotF) || ''} fill="none" stroke={planetColors[col]} strokeWidth={2.6} />
        )}
        {!residual && binTime.map((t, i) => (
          <circle key={'b' + i} cx={x(t)} cy={y(bins[i])} r={4.6} fill={binColor} />
        ))}
      </g>
      <rect x={x0} y={y0} width={x1 - x0} height={y1 - y0} fill="none" stroke={FRAME} strokeWidth={1.3} />
      {fluxTicks.map((v, i) => (
        <g key={'yt' + i}>
          <line x1={x0 - 3.5} x2={x0} y1={y(v)} y2={y(v)} stroke={FRAME} strokeWidth={1} />
          {col === 0 && (
            <text x={x0 - 5} y={y(v)} dy="0.35em" textAnchor="end" fontSize={13} fill={TEXT} fontFamily={FONT}>
              {ticksY[i]}
            </text>
          )}
        </g>
      ))}
      {xTicks.map((v, i) => (
        <g key={'xt' + i}>
          <line x1={x(v)} x2={x(v)} y1={y1} y2={y1 + 3.5} stroke={FRAME} strokeWidth={1} />
          {lastRow && (
            <text x={x(v)} y={556} textAnchor="middle" fontSize={13} fill={TEXT} fontFamily={FONT}>
              {xTickLabels[i]}
            </text>
          )}
        </g>
      ))}
      <text x={x0 + 7} y={y0 + 15} fontSize={16.7} fill="#111" fontFamily={FONT}>{label}</text>
    </g>
  );
}

export default function App() {
  const sectors = [
    { pts: [s19bPoints, s19cPoints], bins: [s19bBins, s19cBins], binTime: s19BinTime, name: 'TESS S19' },
    {
      pts: [s59bOrbitA.concat(s59bOrbitB), s59cOrbitA.concat(s59cOrbitB)],
      bins: [s59bBins, s59cBins], binTime: s59BinTime, name: 'TESS S59',
    },
  ];
  const knots = [[modelBTime, modelBFlux], [modelCTime, modelCFlux]];
  const panels: React.ReactNode[] = [];
  sectors.forEach((s, si) => {
    [0, 1].forEach((col) => {
      [false, true].forEach((res) => {
        const row = si * 2 + (res ? 1 : 0);
        panels.push(
          <Panel
            key={`${si}-${col}-${res}`}
            id={`clip-${si}-${col}-${res ? 'r' : 'f'}`}
            col={col}
            row={row}
            points={s.pts[col]}
            binTime={s.binTime}
            bins={s.bins[col]}
            knotT={knots[col][0]}
            knotF={knots[col][1]}
            base={sectorBaseline[si]}
            residual={res}
            label={res ? 'Residuals' : s.name}
          />
        );
      });
    });
  });
  return (
    <svg width={W} height={H} style={{ position: 'absolute', left: 0, top: 0, background: '#fff' }}>
      <rect width={W} height={H} fill="#fff" />
      {planetNames.map((n, i) => (
        <text key={n} x={(colX[i][0] + colX[i][1]) / 2} y={19} textAnchor="middle" fontSize={19.5} fill="#111" fontFamily={FONT}>
          {n}
        </text>
      ))}
      {panels}
      <text transform="translate(22,293) rotate(-90)" textAnchor="middle" fontSize={20} fill="#111" fontFamily={FONT}>
        Normalized Flux
      </text>
      <text x={582} y={579} fontSize={20} fill="#111" fontFamily={FONT}>
        Time since <tspan fontStyle="italic">T</tspan>
        <tspan fontStyle="italic" fontSize={14} dy={4}>C</tspan>
        <tspan dy={-4}> (days)</tspan>
      </text>
    </svg>
  );
}
